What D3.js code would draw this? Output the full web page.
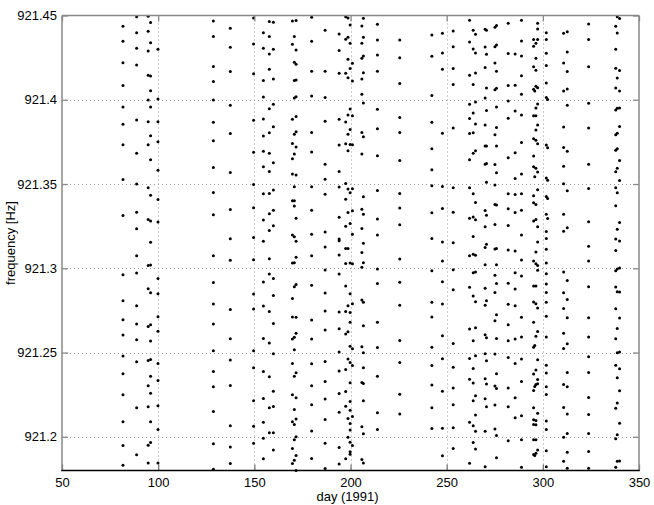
<!DOCTYPE html>
<html><head><meta charset="utf-8">
<script src="https://cdn.jsdelivr.net/npm/d3@7"></script>
<style>
body{margin:0;background:#fff}
svg{display:block}
text{font-family:"Liberation Sans",Arial,Helvetica,sans-serif}
</style>
</head><body>
<svg id="chart" width="654" height="505"></svg>
<script>
// observation days (columns) and the frequencies measured on each day
const days = [81.7, 88.8, 94.8, 96.05, 99.9, 128.7, 137.5, 149.6, 154.7, 157.8, 159.9, 169.8, 170.8, 171.7, 179.8, 186.8, 194.1, 197.5, 198.7, 199.8, 201.0, 205.9, 206.7, 214.0, 225.6, 242.3, 247.8,
  253.4, 261.9, 263.8, 265.0, 270.0, 270.7, 275.1, 275.9, 282.0, 285.6, 288.9, 295.2, 295.8, 296.4, 297.3, 301.8, 302.5, 310.8, 312.7, 323.8, 337.9, 338.7, 339.9];

const freqs = [
  [921.4436, 921.4347, 921.4220, 921.4084, 921.3957, 921.3854, 921.3733, 921.3527, 921.3313, 921.2962, 921.2808, 921.2695, 921.2604, 921.2479, 921.2374, 921.2249, 921.2090, 921.1948, 921.1831],
  [921.4493, 921.4398, 921.4305, 921.4206, 921.3880, 921.3682, 921.3500, 921.3333, 921.3234, 921.3075, 921.2972, 921.2778, 921.2669, 921.2576, 921.2445, 921.2172, 921.1893],
  [921.4495, 921.4406, 921.4289, 921.4145, 921.3998, 921.3870, 921.3733, 921.3478, 921.3290, 921.3016, 921.2879, 921.2655, 921.2453, 921.2303, 921.2178, 921.1950, 921.1845],
  [921.4458, 921.4339, 921.4141, 921.4054, 921.3957, 921.3787, 921.3644, 921.3434, 921.3280, 921.3154, 921.3020, 921.2855, 921.2665, 921.2568, 921.2459, 921.2360, 921.2259, 921.2089, 921.1966],
  [921.4300, 921.4004, 921.3870, 921.3751, 921.3581, 921.3408, 921.3274, 921.2940, 921.2849, 921.2713, 921.2627, 921.2435, 921.2334, 921.2184, 921.2043, 921.1845],
  [921.4468, 921.4375, 921.4198, 921.4109, 921.3998, 921.3866, 921.3757, 921.3598, 921.3450, 921.3317, 921.3075, 921.2915, 921.2788, 921.2669, 921.2511, 921.2388, 921.2297, 921.2150, 921.1958, 921.1808],
  [921.4424, 921.4311, 921.4167, 921.3967, 921.3800, 921.3569, 921.3349, 921.3175, 921.3047, 921.2756, 921.2582, 921.2455, 921.2305, 921.2065, 921.1940, 921.1841],
  [921.4485, 921.4331, 921.4155, 921.3878, 921.3688, 921.3497, 921.3359, 921.3183, 921.3051, 921.2847, 921.2758, 921.2511, 921.2410, 921.2214, 921.2063, 921.1962],
  [921.4398, 921.4305, 921.4115, 921.4016, 921.3886, 921.3785, 921.3695, 921.3602, 921.3442, 921.3286, 921.3160, 921.2919, 921.2776, 921.2584, 921.2388, 921.2227, 921.2087, 921.1992, 921.1869],
  [921.4464, 921.4375, 921.4272, 921.4181, 921.3947, 921.3804, 921.3682, 921.3575, 921.3444, 921.3323, 921.3224, 921.3057, 921.2966, 921.2744, 921.2556, 921.2356, 921.2172, 921.2024],
  [921.4460, 921.4299, 921.4123, 921.3973, 921.3840, 921.3626, 921.3464, 921.3345, 921.3252, 921.2940, 921.2839, 921.2673, 921.2493, 921.2271, 921.2180, 921.2024, 921.1921],
  [921.4468, 921.4329, 921.3884, 921.3741, 921.3650, 921.3559, 921.3400, 921.3197, 921.3031, 921.2820, 921.2711, 921.2580, 921.2435, 921.2249, 921.2089, 921.1930, 921.1841],
  [921.4375, 921.4222, 921.4115, 921.4010, 921.3796, 921.3678, 921.3484, 921.3400, 921.3369, 921.3187, 921.3033, 921.2891, 921.2590, 921.2517, 921.2360, 921.2162, 921.2073, 921.1982, 921.1861],
  [921.4470, 921.4295, 921.4210, 921.4117, 921.4018, 921.3900, 921.3810, 921.3719, 921.3553, 921.3297, 921.3160, 921.3065, 921.2903, 921.2709, 921.2614, 921.2380, 921.2231, 921.2105, 921.2000, 921.1889, 921.1800],
  [921.4489, 921.4347, 921.4169, 921.4022, 921.3806, 921.3690, 921.3484, 921.3345, 921.3202, 921.3075, 921.2899, 921.2693, 921.2580, 921.2433, 921.2303, 921.2190, 921.2035, 921.1871],
  [921.4412, 921.4169, 921.4014, 921.3872, 921.3618, 921.3529, 921.3440, 921.3216, 921.3126, 921.2990, 921.2853, 921.2746, 921.2633, 921.2447, 921.2328, 921.2224, 921.2103, 921.1962, 921.1812],
  [921.4390, 921.4293, 921.4157, 921.3884, 921.3731, 921.3575, 921.3482, 921.3303, 921.3173, 921.3164, 921.3079, 921.2966, 921.2740, 921.2641, 921.2503, 921.2390, 921.2257, 921.2146, 921.1936, 921.1839],
  [921.4493, 921.4359, 921.4157, 921.3868, 921.3739, 921.3503, 921.3410, 921.3250, 921.3118, 921.3029, 921.2895, 921.2744, 921.2610, 921.2400, 921.2269, 921.2182, 921.1869],
  [921.4485, 921.4371, 921.4240, 921.4131, 921.3909, 921.3796, 921.3697, 921.3470, 921.3331, 921.3118, 921.2778, 921.2623, 921.2461, 921.2109, 921.1998],
  [921.4444, 921.4335, 921.4186, 921.3945, 921.3824, 921.3735, 921.3448, 921.3266, 921.3031, 921.2849, 921.2738, 921.2679, 921.2538, 921.2441, 921.2321, 921.2210, 921.2158, 921.2079, 921.2041, 921.1968, 921.1911, 921.1897],
  [921.4216, 921.4111, 921.3905, 921.3733, 921.3472, 921.3341, 921.3202, 921.3027, 921.2790, 921.2522, 921.2423, 921.2121, 921.1948],
  [921.4438, 921.4335, 921.4246, 921.4123, 921.4032, 921.3806, 921.3678, 921.3351, 921.3236, 921.3093, 921.3006, 921.2812, 921.2534, 921.2322, 921.2059, 921.1865],
  [921.4484, 921.4371, 921.4260, 921.4161, 921.3981, 921.3781, 921.3424, 921.3321, 921.3148, 921.3033, 921.2798, 921.2659, 921.2499, 921.2410, 921.2317, 921.2214, 921.2018, 921.1845],
  [921.4448, 921.4355, 921.4266, 921.4169, 921.3943, 921.3828, 921.3668, 921.3462, 921.3292, 921.3197, 921.2996, 921.2909, 921.2679, 921.2530, 921.2360, 921.2142, 921.2043],
  [921.4355, 921.4250, 921.4097, 921.3895, 921.3806, 921.3640, 921.3444, 921.3357, 921.3258, 921.3055, 921.2917, 921.2780, 921.2572, 921.2441, 921.2253, 921.2136],
  [921.4385, 921.4258, 921.4026, 921.3866, 921.3709, 921.3585, 921.3489, 921.3329, 921.3177, 921.2986, 921.2798, 921.2711, 921.2532, 921.2423, 921.2307, 921.2172, 921.2049],
  [921.4394, 921.4278, 921.4181, 921.3802, 921.3486, 921.3355, 921.3156, 921.3043, 921.2920, 921.2788, 921.2600, 921.2463, 921.2271, 921.2051, 921.1887],
  [921.4408, 921.4315, 921.4185, 921.4090, 921.3832, 921.3478, 921.3333, 921.3152, 921.2992, 921.2873, 921.2554, 921.2412, 921.2289, 921.2190, 921.2053, 921.1930],
  [921.4472, 921.4343, 921.4145, 921.3973, 921.3889, 921.3800, 921.3644, 921.3478, 921.3297, 921.3075, 921.2887, 921.2639, 921.2465, 921.2342, 921.2087, 921.1843],
  [921.4412, 921.4301, 921.4091, 921.3921, 921.3804, 921.3682, 921.3442, 921.3305, 921.3189, 921.3083, 921.2974, 921.2835, 921.2570, 921.2406, 921.2319, 921.2214, 921.2065, 921.1966],
  [921.4388, 921.4278, 921.4159, 921.3987, 921.3856, 921.3697, 921.3391, 921.3288, 921.3077, 921.2978, 921.2802, 921.2647, 921.2481, 921.2243, 921.2130, 921.2033, 921.1927],
  [921.4418, 921.4313, 921.4192, 921.4010, 921.3850, 921.3725, 921.3618, 921.3343, 921.3246, 921.3124, 921.3021, 921.2881, 921.2780, 921.2606, 921.2493, 921.2344, 921.2226, 921.2033, 921.1822],
  [921.4412, 921.4270, 921.4070, 921.3937, 921.3725, 921.3622, 921.3510, 921.3315, 921.3142, 921.2808, 921.2588, 921.2451, 921.2313, 921.2178],
  [921.4430, 921.4315, 921.4218, 921.4060, 921.3792, 921.3616, 921.3494, 921.3379, 921.3260, 921.3115, 921.2958, 921.2857, 921.2689, 921.2491, 921.2301, 921.2188, 921.2047],
  [921.4440, 921.4325, 921.4169, 921.4068, 921.3957, 921.3836, 921.3725, 921.3567, 921.3375, 921.3118, 921.3021, 921.2909, 921.2724, 921.2584, 921.2374, 921.2287, 921.2008, 921.1875],
  [921.4454, 921.4274, 921.4084, 921.3992, 921.3891, 921.3656, 921.3442, 921.3353, 921.3254, 921.3109, 921.2911, 921.2786, 921.2665, 921.2570, 921.2471, 921.2289, 921.2178, 921.1976],
  [921.4272, 921.4086, 921.3933, 921.3686, 921.3533, 921.3438, 921.3331, 921.3103, 921.2974, 921.2877, 921.2778, 921.2580, 921.2435, 921.2231, 921.2113],
  [921.4472, 921.4349, 921.4260, 921.4143, 921.4032, 921.3909, 921.3747, 921.3559, 921.3442, 921.3345, 921.3197, 921.3049, 921.2954, 921.2709, 921.2592, 921.2461, 921.2328, 921.2125, 921.1982, 921.1820],
  [921.4357, 921.4317, 921.4196, 921.4062, 921.3905, 921.3769, 921.3666, 921.3602, 921.3430, 921.3389, 921.3280, 921.3043, 921.2895, 921.2800, 921.2679, 921.2532, 921.2372, 921.2275, 921.2172, 921.2101, 921.2073, 921.1982, 921.1895],
  [921.4052, 921.3543, 921.2542, 921.2299, 921.1889],
  [921.4335, 921.4246, 921.4175, 921.4080, 921.3951, 921.3905, 921.3820, 921.3759, 921.3594, 921.3379, 921.3290, 921.3097, 921.3027, 921.2895, 921.2790, 921.2596, 921.2396, 921.2311, 921.2097, 921.2071, 921.1982, 921.1903],
  [921.4454, 921.4420, 921.4357, 921.4072, 921.3975, 921.3850, 921.3739, 921.3571, 921.3466, 921.3246, 921.3156, 921.3017, 921.2988, 921.2764, 921.2625, 921.2457, 921.2340, 921.2315, 921.2140, 921.1921],
  [921.4398, 921.4357, 921.4276, 921.4204, 921.4099, 921.4014, 921.3731, 921.3535, 921.3426, 921.3321, 921.3218, 921.3177, 921.3113, 921.3031, 921.2968, 921.2907, 921.2857, 921.2798, 921.2715, 921.2592, 921.2424, 921.2378, 921.2297, 921.2251, 921.2093, 921.2043, 921.1917, 921.1822],
  [921.4002, 921.3715, 921.3523, 921.3414, 921.3296],
  [921.4394, 921.4218, 921.4052, 921.3838, 921.3717, 921.3606, 921.3501, 921.3321, 921.3220, 921.2978, 921.2855, 921.2762, 921.2614, 921.2524, 921.2311, 921.2174, 921.1998, 921.1855],
  [921.4404, 921.4283, 921.4167, 921.4064, 921.3967, 921.3695, 921.3460, 921.3240, 921.2928, 921.2814, 921.2707, 921.2552, 921.2382, 921.2297, 921.2135, 921.2019, 921.1909, 921.1814],
  [921.4450, 921.4357, 921.4196, 921.3979, 921.3832, 921.3618, 921.3474, 921.3276, 921.3130, 921.3043, 921.2891, 921.2707, 921.2592, 921.2475, 921.2382, 921.2233, 921.2132, 921.2019, 921.1913, 921.1814],
  [921.4436, 921.4299, 921.4187, 921.4070, 921.3939, 921.3792, 921.3701, 921.3573, 921.3478, 921.3371, 921.3173, 921.3105, 921.2986, 921.2889, 921.2760, 921.2582, 921.2424, 921.2170, 921.1988, 921.1820],
  [921.4493, 921.4396, 921.4129, 921.3949, 921.3802, 921.3709, 921.3594, 921.3448, 921.3232, 921.2996, 921.2861, 921.2643, 921.2499, 921.2350, 921.2200, 921.2012, 921.1855],
  [921.4482, 921.4173, 921.4052, 921.3951, 921.3842, 921.3640, 921.3521, 921.3272, 921.3162, 921.3002, 921.2859, 921.2705, 921.2503, 921.2404, 921.2273, 921.2081, 921.1857]
];

const xTicks = [50, 100, 150, 200, 250, 300, 350];
const yTicks = [921.2, 921.25, 921.3, 921.35, 921.4, 921.45];
const xDomain = [50, 350];
const yDomain = [921.18, 921.45];
const xTitle = "day (1991)";
const yTitle = "frequency [Hz]";

const W = 654, H = 505;
const m = {left: 62, right: 639, top: 15.5, bottom: 470.5};
const x = d3.scaleLinear().domain(xDomain).range([m.left, m.right]);
const y = d3.scaleLinear().domain(yDomain).range([m.bottom, m.top]);
const svg = d3.select("#chart");

svg.append("rect").attr("width", W).attr("height", H).attr("fill", "#fff");

// dotted grid
const grid = svg.append("g").attr("stroke", "#999").attr("stroke-width", 1).attr("stroke-dasharray", "1,3");
grid.selectAll("line.v").data(xTicks.filter(d => d > xDomain[0] && d < xDomain[1])).join("line")
  .attr("class", "v").attr("x1", d => Math.round(x(d)) + 0.5).attr("x2", d => Math.round(x(d)) + 0.5)
  .attr("y1", m.top).attr("y2", m.bottom);
grid.selectAll("line.h").data(yTicks.filter(d => d > yDomain[0] && d < yDomain[1])).join("line")
  .attr("class", "h").attr("y1", d => Math.round(y(d)) + 0.5).attr("y2", d => Math.round(y(d)) + 0.5)
  .attr("x1", m.left).attr("x2", m.right);

// points
const pts = [];
days.forEach((d, i) => freqs[i].forEach(f => pts.push([d, f])));
svg.append("g").selectAll("circle").data(pts).join("circle")
  .attr("cx", d => x(d[0])).attr("cy", d => y(d[1])).attr("r", 1.5).attr("fill", "#000");

const fmt = d => String(+d.toFixed(2));
function style(g, col) {
  g.select(".domain").remove();
  g.selectAll(".tick line").attr("stroke", col).attr("stroke-width", 1.3);
  g.selectAll(".tick text").attr("fill", "#000").attr("font-size", 13)
    .attr("font-family", '"Liberation Sans", Arial, sans-serif');
}
svg.append("g").attr("transform", `translate(0,${m.bottom})`)
  .call(d3.axisBottom(x).tickValues(xTicks).tickFormat(fmt).tickSizeInner(-6).tickSizeOuter(0).tickPadding(7))
  .call(g => style(g, "#777"));
svg.append("g").attr("transform", `translate(0,${m.top})`)
  .call(d3.axisTop(x).tickValues(xTicks).tickFormat("").tickSizeInner(-6).tickSizeOuter(0))
  .call(g => style(g, "#888"));
svg.append("g").attr("transform", `translate(${m.left},0)`)
  .call(d3.axisLeft(y).tickValues(yTicks).tickFormat(fmt).tickSizeInner(-6).tickSizeOuter(0).tickPadding(5))
  .call(g => style(g, "#888"));
svg.append("g").attr("transform", `translate(${m.right},0)`)
  .call(d3.axisRight(y).tickValues(yTicks).tickFormat("").tickSizeInner(-6).tickSizeOuter(0))
  .call(g => style(g, "#888"));

// box
const box = svg.append("g").attr("fill", "none");
box.append("line").attr("x1", m.left).attr("x2", m.left).attr("y1", m.top).attr("y2", m.bottom).attr("stroke", "#888").attr("stroke-width", 1.5);
box.append("line").attr("x1", m.right).attr("x2", m.right).attr("y1", m.top).attr("y2", m.bottom).attr("stroke", "#888").attr("stroke-width", 1.5);
box.append("line").attr("x1", m.left).attr("x2", m.right).attr("y1", m.top).attr("y2", m.top).attr("stroke", "#888").attr("stroke-width", 1.5);
box.append("line").attr("x1", m.left - 0.75).attr("x2", m.right + 0.75).attr("y1", m.bottom).attr("y2", m.bottom).attr("stroke", "#000").attr("stroke-width", 1.5);

// titles
svg.append("text").attr("x", (m.left + m.right) / 2 - 3).attr("y", 501).attr("text-anchor", "middle")
  .attr("font-size", 13).text(xTitle);
svg.append("text").attr("transform", `translate(15,${(m.top + m.bottom) / 2}) rotate(-90)`).attr("text-anchor", "middle")
  .attr("font-size", 13).text(yTitle);
</script>
</body></html>
